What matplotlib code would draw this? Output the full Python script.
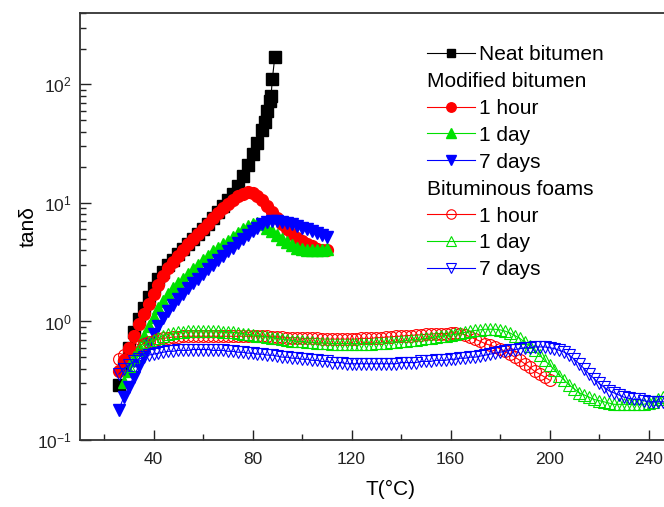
import numpy as np
import matplotlib
matplotlib.use("Agg")
import matplotlib.pyplot as plt
from matplotlib.lines import Line2D
from matplotlib.ticker import LogLocator, FixedLocator, NullFormatter, LogFormatterSciNotation

plt.rcParams['font.family'] = ['Liberation Sans', 'DejaVu Sans']
plt.rcParams['mathtext.fontset'] = 'custom'
plt.rcParams['mathtext.rm'] = 'Liberation Sans'
plt.rcParams['mathtext.it'] = 'Liberation Sans:italic'

# ---------------- data ----------------
neat_T = [26, 28, 30, 32, 34, 36, 38, 40, 42, 44, 46, 48, 50, 52, 54, 56, 58, 60,
          62, 64, 66, 68, 70, 72, 74, 76, 78, 80, 82, 84, 85, 86, 87, 87.5, 88, 89]
neat_tan = [0.29, 0.42, 0.60, 0.82, 1.05, 1.3, 1.6, 1.9, 2.3, 2.6, 3.0, 3.3, 3.7, 4.1,
            4.5, 5.0, 5.5, 6.0, 6.7, 7.5, 8.4, 9.4, 10.5, 12, 14, 17, 21, 26, 32, 41,
            48, 60, 72, 80, 110, 170]

mod_1h_T = np.arange(26, 111, 2)
mod_1h_tan = [0.38, 0.47, 0.60, 0.76, 0.95, 1.15, 1.4, 1.7, 2.05, 2.4,
              2.8, 3.2, 3.6, 4.0, 4.5, 5.0, 5.5, 6.0, 6.7, 7.4,
              8.2, 9.0, 9.8, 10.6, 11.4, 12.0, 12.3, 12.1, 11.5, 10.5,
              9.4, 8.4, 7.4, 6.6, 6.0, 5.5, 5.1, 4.8, 4.5, 4.3,
              4.1, 4.0, 4.0]

mod_1d_T = np.arange(28, 111, 2)
mod_1d_tan = [0.31, 0.38, 0.47, 0.60, 0.75, 0.92, 1.1, 1.3, 1.5, 1.7,
              1.9, 2.1, 2.3, 2.5, 2.75, 3.0, 3.3, 3.6, 3.9, 4.2,
              4.5, 4.8, 5.2, 5.6, 6.0, 6.4, 6.7, 6.8, 6.6, 6.2,
              5.8, 5.4, 5.0, 4.7, 4.4, 4.2, 4.1, 4.0, 4.0, 4.0,
              4.0, 4.1]

mod_7d_T = np.arange(26, 111, 2)
mod_7d_tan = [0.18, 0.23, 0.28, 0.34, 0.42, 0.52, 0.64, 0.78, 0.92, 1.07,
              1.22, 1.38, 1.55, 1.72, 1.9, 2.1, 2.3, 2.5, 2.75, 3.0,
              3.3, 3.6, 3.9, 4.2, 4.6, 5.0, 5.4, 5.8, 6.2, 6.6,
              6.9, 7.0, 7.0, 6.9, 6.8, 6.6, 6.4, 6.2, 6.0, 5.8,
              5.6, 5.4, 5.2]

foam_1h_T = np.arange(26, 201, 2)
foam_1h_tan = [0.48, 0.52, 0.56, 0.59, 0.62, 0.65, 0.67, 0.69, 0.71, 0.72,
               0.73, 0.74, 0.74, 0.75, 0.75, 0.75, 0.75, 0.75, 0.75, 0.75,
               0.75, 0.75, 0.75, 0.75, 0.75, 0.75, 0.75, 0.75, 0.75, 0.75,
               0.75, 0.74, 0.74, 0.74, 0.73, 0.73, 0.73, 0.72, 0.72, 0.72,
               0.72, 0.71, 0.71, 0.71, 0.71, 0.71, 0.71, 0.71, 0.71, 0.72,
               0.72, 0.72, 0.73, 0.73, 0.74, 0.74, 0.75, 0.75, 0.76, 0.76,
               0.77, 0.77, 0.78, 0.78, 0.79, 0.79, 0.79, 0.80, 0.80, 0.79,
               0.77, 0.74, 0.71, 0.68, 0.65, 0.63, 0.61, 0.59, 0.56, 0.53,
               0.50, 0.47, 0.44, 0.41, 0.38, 0.36, 0.34, 0.32]

foam_1d_T = np.arange(30, 247, 2)
foam_1d_tan = [0.42, 0.50, 0.57, 0.63, 0.67, 0.70, 0.73, 0.76, 0.78, 0.80,
               0.81, 0.82, 0.83, 0.83, 0.83, 0.83, 0.83, 0.83, 0.83, 0.82,
               0.82, 0.81, 0.80, 0.79, 0.78, 0.77, 0.76, 0.75, 0.74, 0.73,
               0.72, 0.71, 0.70, 0.69, 0.68, 0.68, 0.67, 0.67, 0.66, 0.66,
               0.66, 0.65, 0.65, 0.65, 0.65, 0.65, 0.65, 0.65, 0.65, 0.65,
               0.66, 0.66, 0.66, 0.67, 0.67, 0.68, 0.69, 0.70, 0.70, 0.71,
               0.72, 0.73, 0.74, 0.75, 0.76, 0.77, 0.78, 0.80, 0.81, 0.83,
               0.84, 0.85, 0.86, 0.86, 0.86, 0.85, 0.83, 0.80, 0.76, 0.72,
               0.67, 0.62, 0.57, 0.52, 0.47, 0.43, 0.39, 0.35, 0.32, 0.29,
               0.27, 0.25, 0.24, 0.23, 0.22, 0.215, 0.21, 0.205, 0.20, 0.20,
               0.20, 0.20, 0.20, 0.20, 0.20, 0.205, 0.21, 0.22, 0.23]

foam_7d_T = np.arange(26, 247, 2)
foam_7d_tan = [0.36, 0.40, 0.43, 0.46, 0.48, 0.50, 0.52, 0.53, 0.54, 0.55,
               0.56, 0.56, 0.57, 0.57, 0.57, 0.58, 0.58, 0.58, 0.58, 0.57,
               0.57, 0.57, 0.56, 0.56, 0.55, 0.55, 0.54, 0.54, 0.53, 0.53,
               0.52, 0.52, 0.51, 0.50, 0.50, 0.49, 0.49, 0.48, 0.48, 0.47,
               0.47, 0.46, 0.46, 0.45, 0.45, 0.45, 0.44, 0.44, 0.44, 0.44,
               0.44, 0.44, 0.44, 0.44, 0.44, 0.44, 0.44, 0.45, 0.45, 0.45,
               0.45, 0.46, 0.46, 0.46, 0.47, 0.47, 0.47, 0.48, 0.48, 0.49,
               0.49, 0.50, 0.50, 0.51, 0.52, 0.53, 0.54, 0.55, 0.56, 0.57,
               0.58, 0.59, 0.60, 0.60, 0.61, 0.61, 0.61, 0.60, 0.59, 0.57,
               0.55, 0.52, 0.48, 0.44, 0.40, 0.36, 0.33, 0.30, 0.28, 0.26,
               0.25, 0.24, 0.23, 0.225, 0.22, 0.22, 0.215, 0.21, 0.21, 0.21, 0.21]

x_major = [40, 80, 120, 160, 200, 240]
x_minor = [20, 60, 100, 140, 180, 220]

RED, GREEN, BLUE = '#ff0000', '#00e000', '#0000ff'

# ---------------- figure ----------------
fig = plt.figure(figsize=(6.64, 5.07), dpi=100)
W, H = 664, 507
AXW = (W - 80) + 0.01 * W          # axes width in px (runs slightly past the edge)
AXH = 440 - 13
ax = fig.add_axes([80 / W, (H - 440) / H, AXW / W, AXH / H])

lw = 0.8
ax.plot(neat_T, neat_tan, color='black', lw=lw, marker='s', ms=8, mfc='black', mec='black', label='Neat bitumen', zorder=3)
ax.plot(mod_1h_T, mod_1h_tan, color=RED, lw=lw, marker='o', ms=8.5, mfc=RED, mec=RED, label='1 hour', zorder=3)
ax.plot(mod_1d_T, mod_1d_tan, color=GREEN, lw=lw, marker='^', ms=9, mfc=GREEN, mec=GREEN, label='1 day', zorder=3)
ax.plot(mod_7d_T, mod_7d_tan, color=BLUE, lw=lw, marker='v', ms=9, mfc=BLUE, mec=BLUE, label='7 days', zorder=3)
ax.plot(foam_1h_T, foam_1h_tan, color=RED, lw=lw, marker='o', ms=8.5, mfc='none', mec=RED, mew=0.8, label='1 hour', zorder=4)
ax.plot(foam_1d_T, foam_1d_tan, color=GREEN, lw=lw, marker='^', ms=9, mfc='none', mec=GREEN, mew=0.8, label='1 day', zorder=4)
ax.plot(foam_7d_T, foam_7d_tan, color=BLUE, lw=lw, marker='v', ms=9, mfc='none', mec=BLUE, mew=0.8, label='7 days', zorder=4)

ax.set_yscale('log')
ax.set_xlim(10.3, 10.3 + AXW / 2.475)
ax.set_ylim(0.1, 400)

ax.xaxis.set_major_locator(FixedLocator(x_major))
ax.xaxis.set_minor_locator(FixedLocator(x_minor))
ax.yaxis.set_major_locator(LogLocator(base=10, numticks=10))
ax.yaxis.set_minor_locator(LogLocator(base=10, subs=np.arange(2, 10), numticks=20))
ax.yaxis.set_minor_formatter(NullFormatter())
ax.yaxis.set_major_formatter(LogFormatterSciNotation())

ax.tick_params(axis='both', which='both', direction='in', top=False, right=False,
               labelsize=12.5, width=1.0, colors='#222222')
ax.tick_params(axis='x', which='major', length=7, pad=9)
ax.tick_params(axis='x', which='minor', length=4)
ax.tick_params(axis='y', which='major', length=8, pad=6)
ax.tick_params(axis='y', which='minor', length=4.5)

for s in ['left', 'bottom', 'top']:
    ax.spines[s].set_linewidth(1.3)
    ax.spines[s].set_color('#333333')
ax.spines['right'].set_visible(False)

ax.set_xlabel('T(°C)', fontsize=15)
ax.xaxis.set_label_coords((390 - 80) / AXW, -40 / AXH)
ax.set_ylabel('tanδ', fontsize=15)
ax.yaxis.set_label_coords(-(80 - 38) / AXW, 0.5)

# ---------------- legend ----------------
lines = ax.get_lines()
header = Line2D([], [], color='none')
handles = [lines[0], header, lines[1], lines[2], lines[3], header, lines[4], lines[5], lines[6]]
labels = ['Neat bitumen', 'Modified bitumen', '1 hour', '1 day', '7 days',
          'Bituminous foams', '1 hour', '1 day', '7 days']
leg = ax.legend(handles, labels, loc='upper left',
                bbox_to_anchor=((427 - 80) / AXW, (440 - 45) / AXH),
                frameon=False, fontsize=15, handlelength=2.3, handletextpad=0.2,
                labelspacing=0.38, borderpad=0, borderaxespad=0, numpoints=1,
                markerscale=0.8)
col = leg._legend_handle_box.get_children()[0]
for i, hp in enumerate(col.get_children()):
    if labels[i] in ('Modified bitumen', 'Bituminous foams'):
        hp.get_children()[0].width = 0
        hp.sep = 0

fig.savefig('out.png', dpi=100)
